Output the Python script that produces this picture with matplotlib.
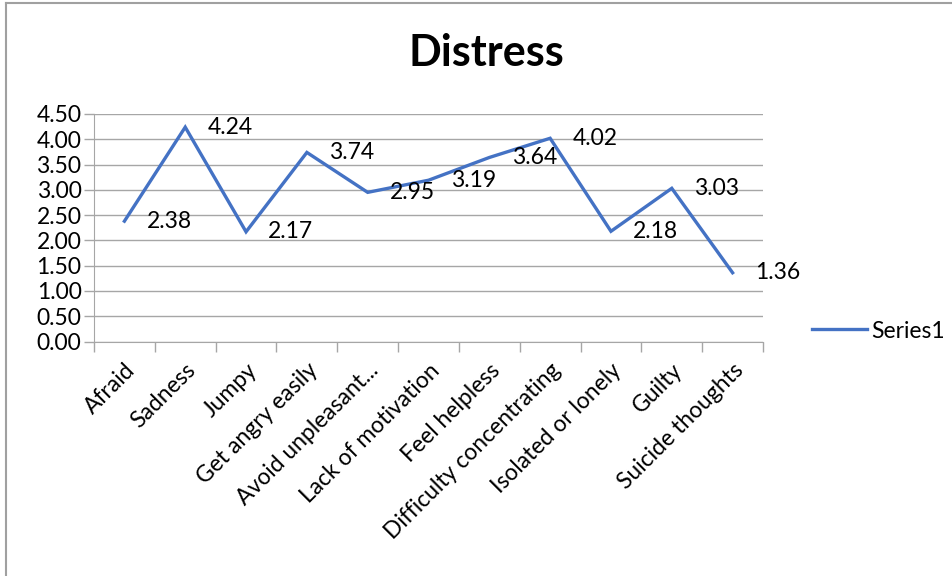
import numpy as np
import matplotlib
matplotlib.use('Agg')
import matplotlib.pyplot as plt
from matplotlib.lines import Line2D

plt.rcParams['font.family'] = ['Lato', 'DejaVu Sans']

# Chart data
categories = ['Afraid', 'Sadness', 'Jumpy', 'Get angry easily', 'Avoid unpleasant...',
              'Lack of motivation', 'Feel helpless', 'Difficulty concentrating',
              'Isolated or lonely', 'Guilty', 'Suicide thoughts']
values = [2.38, 4.24, 2.17, 3.74, 2.95, 3.19, 3.64, 4.02, 2.18, 3.03, 1.36]
y_ticks = [0.0, 0.5, 1.0, 1.5, 2.0, 2.5, 3.0, 3.5, 4.0, 4.5]
series_name = 'Series1'
title = 'Distress'

line_color = '#4472C4'
grid_color = '#A6A6A6'
fs = 16.5

fig = plt.figure(figsize=(9.52, 5.76), dpi=100)
ax = fig.add_axes([94 / 952, 1 - 341.5 / 576, (763 - 94) / 952, (341.5 - 114) / 576])

x = np.arange(len(categories))
line, = ax.plot(x, values, color=line_color, linewidth=2.4, label=series_name,
                solid_joinstyle='miter')

# data labels to the right of each point
for xi, v in zip(x, values):
    ax.annotate('%.2f' % v, (xi, v), xytext=(16, 0), textcoords='offset points',
                ha='left', va='center', fontsize=fs, color='#000000')

ax.set_xlim(-0.5, len(categories) - 0.5)
ax.set_ylim(0, 4.5)
ax.set_yticks(y_ticks)
ax.set_yticklabels(['%.2f' % t for t in y_ticks], fontsize=fs)
ax.yaxis.grid(True, color=grid_color, linewidth=1)
ax.set_axisbelow(True)

# category boundaries get the tick marks, labels sit at the centres
ax.set_xticks(np.arange(-0.5, len(categories)), [''] * (len(categories) + 1))
ax.set_xticks(x, categories, minor=True, rotation=45, ha='right',
              rotation_mode='anchor', fontsize=fs)
ax.tick_params(axis='x', which='major', length=7, color=grid_color, width=1)
ax.tick_params(axis='x', which='minor', length=0, pad=13)
ax.tick_params(axis='y', length=7, color=grid_color, width=1, pad=2)

for s in ['top', 'right']:
    ax.spines[s].set_visible(False)
ax.spines['left'].set_color(grid_color)
ax.spines['bottom'].set_color(grid_color)

fig.text(486 / 952, 1 - 53 / 576, title, ha='center', va='center',
         fontsize=31, fontweight='bold')

fig.legend(handles=[line], labels=[series_name], loc='center left',
           bbox_to_anchor=(791 / 952, 1 - 331 / 576), frameon=False,
           fontsize=fs, handlelength=2.4, handletextpad=0.2)

# chart frame (only the top and left edges are visible in the crop)
fig.add_artist(Line2D([6 / 952, 6 / 952], [0, 1 - 3 / 576], color='#A0A0A0',
                      linewidth=1.5, transform=fig.transFigure))
fig.add_artist(Line2D([6 / 952, 1], [1 - 3 / 576, 1 - 3 / 576], color='#A0A0A0',
                      linewidth=1.5, transform=fig.transFigure))

fig.savefig('out.png', dpi=100)
